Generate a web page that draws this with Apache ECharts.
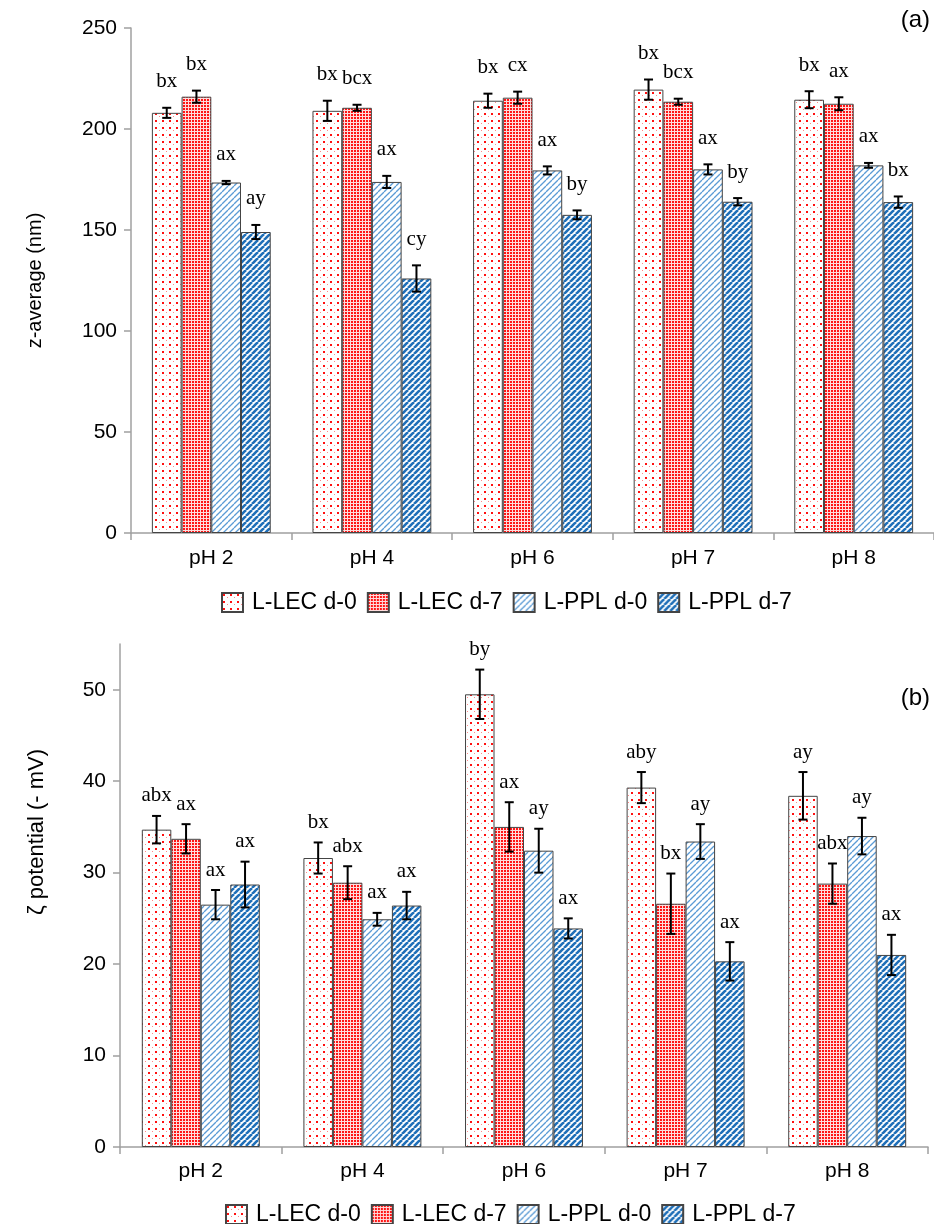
<!DOCTYPE html>
<html>
<head>
<meta charset="utf-8">
<script src="https://cdn.jsdelivr.net/npm/echarts@6/dist/echarts.min.js"></script>
<style>html,body{margin:0;padding:0;background:#fff}#c{width:934px;height:1224px}</style>
</head>
<body>
<div id="c"></div>
<script>
// ---------- DATA ----------
const categories = ['pH 2', 'pH 4', 'pH 6', 'pH 7', 'pH 8'];
const seriesNames = ['L-LEC d-0', 'L-LEC d-7', 'L-PPL d-0', 'L-PPL d-7'];

// (a) z-average (nm)
const zLEC0 = [208, 209, 214, 219.5, 214.5];
const zLEC7 = [216, 210.5, 215.5, 213.5, 212.5];
const zPPL0 = [173.5, 173.8, 179.5, 180, 182];
const zPPL7 = [149, 126, 157.5, 164, 163.8];
const zErrLEC0 = [2.5, 5, 3.5, 5, 4.2];
const zErrLEC7 = [3, 1.5, 3, 1.5, 3.2];
const zErrPPL0 = [0.8, 3, 2, 2.5, 1.2];
const zErrPPL7 = [3.5, 6.5, 2.2, 1.8, 2.8];
const zLabLEC0 = ['bx', 'bx', 'bx', 'bx', 'bx'];
const zLabLEC7 = ['bx', 'bcx', 'cx', 'bcx', 'ax'];
const zLabPPL0 = ['ax', 'ax', 'ax', 'ax', 'ax'];
const zLabPPL7 = ['ay', 'cy', 'by', 'by', 'bx'];
const zTicks = [0, 50, 100, 150, 200, 250];

// (b) zeta potential (- mV)
const pLEC0 = [34.7, 31.6, 49.5, 39.3, 38.4];
const pLEC7 = [33.7, 28.9, 35, 26.6, 28.8];
const pPPL0 = [26.5, 24.9, 32.4, 33.4, 34];
const pPPL7 = [28.7, 26.4, 23.9, 20.3, 21];
const pErrLEC0 = [1.5, 1.7, 2.7, 1.7, 2.6];
const pErrLEC7 = [1.6, 1.8, 2.7, 3.3, 2.2];
const pErrPPL0 = [1.6, 0.7, 2.4, 1.9, 2];
const pErrPPL7 = [2.5, 1.5, 1.1, 2.1, 2.2];
const pLabLEC0 = ['abx', 'bx', 'by', 'aby', 'ay'];
const pLabLEC7 = ['ax', 'abx', 'ax', 'bx', 'abx'];
const pLabPPL0 = ['ax', 'ax', 'ay', 'ay', 'ay'];
const pLabPPL7 = ['ax', 'ax', 'ax', 'ax', 'ax'];
const pTicks = [0, 10, 20, 30, 40, 50];

// ---------- PATTERNS ----------
function tile(w, h, bg, draw) {
  const c = document.createElement('canvas');
  c.width = w; c.height = h;
  const ctx = c.getContext('2d');
  ctx.fillStyle = bg;
  ctx.fillRect(0, 0, w, h);
  draw(ctx, w, h);
  return { image: c, repeat: 'repeat' };
}
function diag(ctx, s, color, lw) {
  ctx.strokeStyle = color; ctx.lineWidth = lw;
  for (const d of [-s, 0, s]) {
    ctx.beginPath(); ctx.moveTo(d, s); ctx.lineTo(d + s, 0); ctx.stroke();
  }
}
const patterns = [
  tile(7, 7, '#ffffff', (ctx) => {
    ctx.fillStyle = '#ff1010'; ctx.fillRect(1, 1, 2, 2);
    ctx.fillStyle = '#ff8a8a'; ctx.fillRect(5, 4, 1, 1);
  }),
  tile(3, 3, '#ffdcdc', (ctx) => {
    ctx.fillStyle = '#ff1515'; ctx.fillRect(0, 0, 2, 2);
  }),
  tile(6, 6, '#ffffff', (ctx) => { diag(ctx, 6, '#5b9bd5', 1.3); }),
  tile(6, 6, '#ffffff', (ctx) => { diag(ctx, 6, '#1f6fb8', 2.6); })
];

// ---------- BUILD ----------
const zVals = [zLEC0, zLEC7, zPPL0, zPPL7];
const zErrs = [zErrLEC0, zErrLEC7, zErrPPL0, zErrPPL7];
const zLabs = [zLabLEC0, zLabLEC7, zLabPPL0, zLabPPL7];
const pVals = [pLEC0, pLEC7, pPPL0, pPPL7];
const pErrs = [pErrLEC0, pErrLEC7, pErrPPL0, pErrPPL7];
const pLabs = [pLabLEC0, pLabLEC7, pLabPPL0, pLabPPL7];

const GAP = [0.26, 0.27];
const LABEL_OFF = [26, 20];

function errData(vals, errs, labs) {
  const rows = [], texts = [];
  for (let k = 0; k < 4; k++) {
    for (let i = 0; i < categories.length; i++) {
      rows.push([i, k, vals[k][i], errs[k][i]]);
      texts.push(labs[k][i]);
    }
  }
  return { rows, texts };
}
const zErrSet = errData(zVals, zErrs, zLabs);
const pErrSet = errData(pVals, pErrs, pLabs);

function makeRender(texts, gap, off) {
  return function (params, api) {
    const cat = api.value(0), k = api.value(1), v = api.value(2), e = api.value(3);
    const band = api.size([1, 0])[0];
    const bw = band * (1 - gap) / 4;
    const c = api.coord([cat, v]);
    const x = c[0] + (k - 1.5) * bw;
    const yT = api.coord([cat, v + e])[1];
    const yB = api.coord([cat, v - e])[1];
    const cap = 4.5;
    const st = { stroke: '#000', lineWidth: 2 };
    return {
      type: 'group',
      children: [
        { type: 'line', shape: { x1: x, y1: yT, x2: x, y2: yB }, style: st },
        { type: 'line', shape: { x1: x - cap, y1: yT, x2: x + cap, y2: yT }, style: st },
        { type: 'line', shape: { x1: x - cap, y1: yB, x2: x + cap, y2: yB }, style: st },
        { type: 'text', style: { text: texts[params.dataIndex], x: x, y: yT - off,
          textAlign: 'center', textVerticalAlign: 'middle',
          font: '21px "Liberation Serif", "DejaVu Serif", serif', fill: '#000' } }
      ]
    };
  };
}

const axisGray = '#a0a0a0';
const FONT = '"Liberation Sans", Arial, sans-serif';

const series = [];
for (let k = 0; k < 4; k++) {
  series.push({
    name: seriesNames[k], type: 'bar', xAxisIndex: 0, yAxisIndex: 0,
    data: zVals[k], barGap: '0%', barCategoryGap: (GAP[0] * 100) + '%',
    itemStyle: { color: patterns[k], borderColor: '#444', borderWidth: 1 },
    emphasis: { disabled: true }, animation: false
  });
}
for (let k = 0; k < 4; k++) {
  series.push({
    name: seriesNames[k], type: 'bar', xAxisIndex: 1, yAxisIndex: 1,
    data: pVals[k], barGap: '0%', barCategoryGap: (GAP[1] * 100) + '%',
    itemStyle: { color: patterns[k], borderColor: '#444', borderWidth: 1 },
    emphasis: { disabled: true }, animation: false
  });
}
series.push({
  type: 'custom', xAxisIndex: 0, yAxisIndex: 0, z: 5, animation: false,
  renderItem: makeRender(zErrSet.texts, GAP[0], LABEL_OFF[0]), data: zErrSet.rows,
  encode: { x: 0, y: 2 }
});
series.push({
  type: 'custom', xAxisIndex: 1, yAxisIndex: 1, z: 5, animation: false,
  renderItem: makeRender(pErrSet.texts, GAP[1], LABEL_OFF[1]), data: pErrSet.rows,
  encode: { x: 0, y: 2 }
});

function xAxis(gi, margin) {
  return {
    type: 'category', gridIndex: gi, data: categories,
    axisLine: { lineStyle: { color: axisGray, width: 1.5 } },
    axisTick: { show: true, length: 7, lineStyle: { color: axisGray, width: 1.5 } },
    axisLabel: { color: '#000', fontSize: 21, fontFamily: FONT, margin: margin },
    splitLine: { show: false }
  };
}

const legendCommon = {
  data: seriesNames, itemWidth: 21, itemHeight: 19, itemGap: 10, icon: 'rect',
  textStyle: { color: '#000', fontSize: 23, fontFamily: FONT, padding: [0, 0, 0, 4] },
  selectedMode: false
};

const option = {
  backgroundColor: '#fff',
  animation: false,
  grid: [
    { left: 131, top: 28, width: 808, height: 505 },
    { left: 120, top: 644, width: 808, height: 503 }
  ],
  xAxis: [xAxis(0, 15), xAxis(1, 14)],
  yAxis: [
    {
      type: 'value', gridIndex: 0, min: 0, max: 250, interval: 50,
      name: 'z-average (nm)', nameLocation: 'middle', nameGap: 86,
      nameTextStyle: { color: '#000', fontSize: 20, fontFamily: FONT },
      axisLine: { show: true, lineStyle: { color: axisGray, width: 1.5 } },
      axisTick: { show: true, length: 7, lineStyle: { color: axisGray, width: 1.5 } },
      axisLabel: { color: '#000', fontSize: 21, fontFamily: FONT, margin: 14 },
      splitLine: { show: false }
    },
    {
      type: 'value', gridIndex: 1, min: 0, max: 55, interval: 10,
      axisLine: { show: true, lineStyle: { color: axisGray, width: 1.5 } },
      axisTick: { show: true, length: 7, customValues: pTicks, lineStyle: { color: axisGray, width: 1.5 } },
      axisLabel: { color: '#000', fontSize: 21, fontFamily: FONT, margin: 14, customValues: pTicks },
      splitLine: { show: false }
    }
  ],
  legend: [
    Object.assign({ left: 216, top: 586 }, legendCommon),
    Object.assign({ left: 220, top: 1198 }, legendCommon)
  ],
  graphic: [
    { type: 'text', right: 4, top: 8, style: { text: '(a)', font: '24px ' + FONT, fill: '#000' } },
    { type: 'text', right: 4, top: 686, style: { text: '(b)', font: '24px ' + FONT, fill: '#000' } },
    { type: 'text', x: 37, y: 832, rotation: Math.PI / 2,
      style: { text: 'ζ potential (- mV)', font: '22px ' + FONT, fill: '#000',
               textAlign: 'center', textVerticalAlign: 'middle' } }
  ],
  series: series
};

const chart = echarts.init(document.getElementById('c'), null, { renderer: 'canvas' });
chart.setOption(option);
</script>
</body>
</html>
